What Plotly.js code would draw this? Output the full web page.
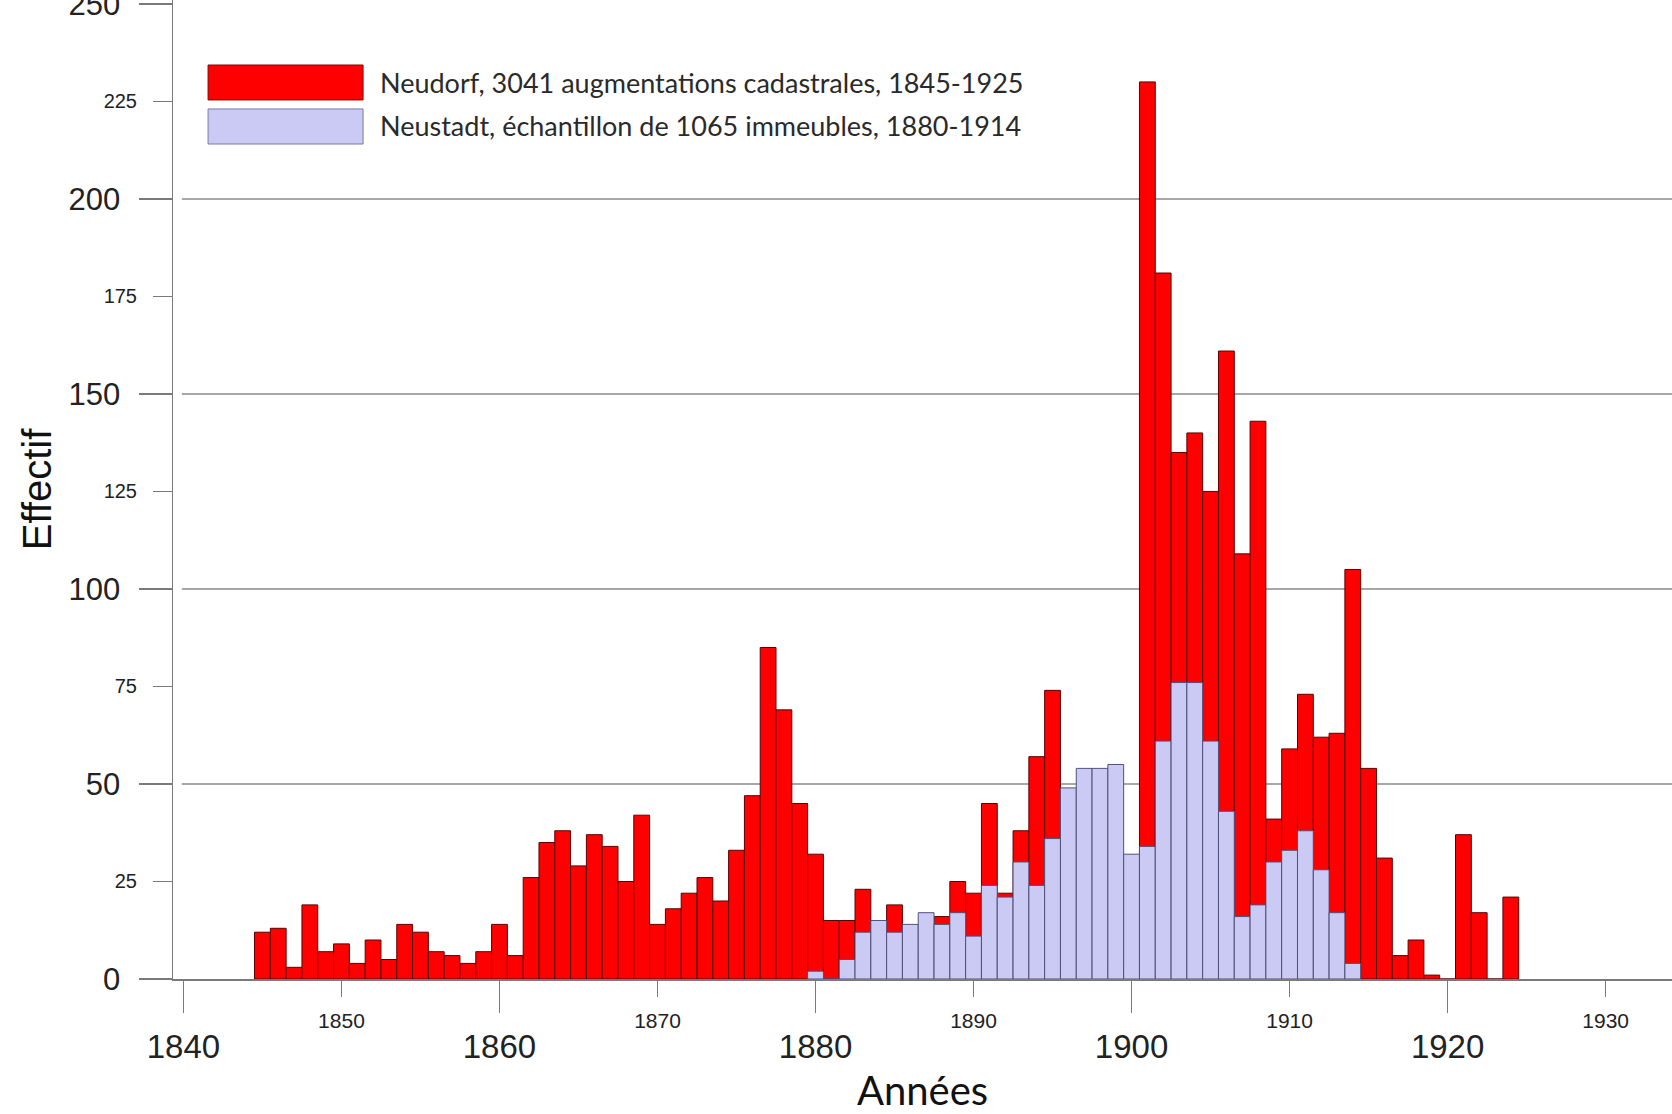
<!DOCTYPE html>
<html>
<head>
<meta charset="utf-8">
<script src="https://cdn.plot.ly/plotly-3.0.1.min.js"></script>
<style>
  html, body { margin: 0; padding: 0; background: #ffffff; }
  #chart { width: 1672px; height: 1114px; }
</style>
</head>
<body>
<div id="chart"></div>
<script>
// ---- Data ----
const neudorfYears = [1845,1846,1847,1848,1849,1850,1851,1852,1853,1854,1855,1856,1857,1858,1859,
  1860,1861,1862,1863,1864,1865,1866,1867,1868,1869,1870,1871,1872,1873,1874,1875,1876,1877,1878,1879,
  1880,1881,1882,1883,1884,1885,1886,1887,1888,1889,1890,1891,1892,1893,1894,1895,1896,1897,1898,1899,
  1900,1901,1902,1903,1904,1905,1906,1907,1908,1909,1910,1911,1912,1913,1914,1915,1916,1917,1918,1919,
  1920,1921,1922,1923,1924];
const neudorfCounts = [12,13,3,19,7,9,4,10,5,14,12,7,6,4,7,
  14,6,26,35,38,29,37,34,25,42,14,18,22,26,20,33,47,85,69,45,
  32,15,15,23,8,19,6,5,16,25,22,45,22,38,57,74,4,3,4,3,
  4,230,181,135,140,125,161,109,143,41,59,73,62,63,105,54,31,6,10,1,
  0,37,17,0,21];

const neustadtYears = [1880,1881,1882,1883,1884,1885,1886,1887,1888,1889,1890,1891,1892,1893,1894,
  1895,1896,1897,1898,1899,1900,1901,1902,1903,1904,1905,1906,1907,1908,1909,1910,1911,1912,1913,1914];
const neustadtCounts = [2,0,5,12,15,12,14,17,14,17,11,24,21,30,24,
  36,49,54,54,55,32,34,61,76,76,61,43,16,19,30,33,38,28,17,4];

const legendLabels = [
  "Neudorf, 3041 augmentations cadastrales, 1845-1925",
  "Neustadt, échantillon de 1065 immeubles, 1880-1914"
];

const xMajorTicks = [1840,1860,1880,1900,1920];
const xMinorTicks = [1850,1870,1890,1910,1930];
const yMajorTicks = [0,50,100,150,200,250];
const yMinorTicks = [25,75,125,175,225];
const gridValues = [50,100,150,200];

// ---- Styles ----
const RED = "#ff0000";
const LAV = "#cacaf4";
const AXIS_COL = "#7a7a7a";
const TXT = "#222222";
const SANS = "Liberation Sans, Arial, sans-serif";
const HUMAN = "Lato, 'Open Sans', sans-serif";

const X_RANGE = [1839.34, 1934.2];
const Y_RANGE = [0, 251];

const traces = [
  {
    type: "bar", x: neudorfYears, y: neudorfCounts, name: legendLabels[0],
    xaxis: "x", yaxis: "y", width: 1,
    marker: { color: RED, line: { color: "#5a0000", width: 1 } },
    showlegend: false, hoverinfo: "x+y"
  },
  {
    type: "bar", x: neustadtYears, y: neustadtCounts, name: legendLabels[1],
    xaxis: "x2", yaxis: "y2", width: 1,
    marker: { color: LAV, line: { color: "#50507a", width: 1 } },
    showlegend: false, hoverinfo: "x+y"
  }
];

const shapes = gridValues.map(v => ({
  type: "line", xref: "x", yref: "y", layer: "below",
  x0: 1839.9, x1: X_RANGE[1], y0: v, y1: v,
  line: { color: "#8a8a8a", width: 1.5 }
}));

// legend swatches (paper coordinates)
shapes.push({
  type: "rect", xref: "paper", yref: "paper",
  x0: 0.0234, x1: 0.1268, y0: 0.8979, y1: 0.9336,
  fillcolor: RED, line: { color: "#8a0000", width: 1 }
});
shapes.push({
  type: "rect", xref: "paper", yref: "paper",
  x0: 0.0234, x1: 0.1268, y0: 0.8529, y1: 0.8887,
  fillcolor: LAV, line: { color: "#7a7aa8", width: 1 }
});

const annotations = [
  { xref: "paper", yref: "paper", x: 0.1368, y: 0.9162, xanchor: "left", yanchor: "middle",
    text: legendLabels[0], showarrow: false, font: { family: HUMAN, size: 27, color: "#2a2a2a" } },
  { xref: "paper", yref: "paper", x: 0.1368, y: 0.8713, xanchor: "left", yanchor: "middle",
    text: legendLabels[1], showarrow: false, font: { family: HUMAN, size: 27, color: "#2a2a2a" } }
];

const layout = {
  width: 1672, height: 1114,
  margin: { l: 173, r: 0, t: 0, b: 135, pad: 0 },
  paper_bgcolor: "#ffffff", plot_bgcolor: "#ffffff",
  bargap: 0, showlegend: false,
  xaxis: {
    range: X_RANGE, tickmode: "array", tickvals: xMajorTicks, ticktext: xMajorTicks.map(String),
    ticks: "outside", ticklen: 32, tickwidth: 1.5, tickcolor: AXIS_COL,
    tickfont: { family: SANS, size: 33, color: TXT }, ticklabelstandoff: 6,
    showline: true, linecolor: AXIS_COL, linewidth: 1.5,
    showgrid: false, zeroline: false, automargin: false,
    title: { text: "Années", font: { family: HUMAN, size: 40, color: "#111" }, standoff: 19 }
  },
  xaxis2: {
    overlaying: "x", anchor: "y", side: "bottom", range: X_RANGE,
    tickmode: "array", tickvals: xMinorTicks, ticktext: xMinorTicks.map(String),
    ticks: "outside", ticklen: 17, tickwidth: 1.5, tickcolor: AXIS_COL,
    tickfont: { family: SANS, size: 21, color: TXT }, ticklabelstandoff: 6,
    showline: false, showgrid: false, zeroline: false, automargin: false
  },
  yaxis: {
    range: Y_RANGE, tickmode: "array", tickvals: yMajorTicks, ticktext: yMajorTicks.map(String),
    ticks: "outside", ticklen: 33, tickwidth: 1.5, tickcolor: AXIS_COL,
    tickfont: { family: SANS, size: 31, color: TXT }, ticklabelstandoff: 12,
    ticklabeloverflow: "allow",
    showline: true, linecolor: AXIS_COL, linewidth: 1.5,
    showgrid: false, zeroline: false, automargin: false,
    title: { text: "Effectif", font: { family: SANS, size: 40, color: "#111" }, standoff: 4 }
  },
  yaxis2: {
    overlaying: "y", anchor: "x", side: "left", range: Y_RANGE,
    tickmode: "array", tickvals: yMinorTicks, ticktext: yMinorTicks.map(String),
    ticks: "outside", ticklen: 19, tickwidth: 1.5, tickcolor: AXIS_COL,
    tickfont: { family: SANS, size: 20, color: TXT }, ticklabelstandoff: 12,
    showline: false, showgrid: false, zeroline: false, automargin: false
  },
  shapes: shapes,
  annotations: annotations
};

Plotly.newPlot("chart", traces, layout, { displayModeBar: false, staticPlot: true });
</script>
</body>
</html>
